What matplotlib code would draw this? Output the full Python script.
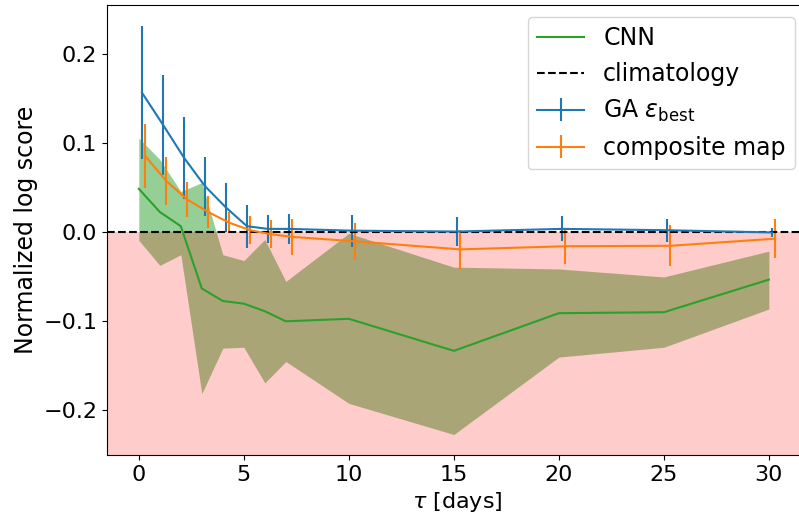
import matplotlib
matplotlib.use("Agg")
import matplotlib.pyplot as plt
import numpy as np

tau = [0, 1, 2, 3, 4, 5, 6, 7, 10, 15, 20, 25, 30]

cnn_mean = [0.048, 0.022, 0.006, -0.064, -0.078, -0.081, -0.0895, -0.1008, -0.098, -0.134, -0.0917, -0.0906, -0.054]
cnn_upper = [0.105, 0.081, 0.045, 0.055, -0.026, -0.0326, -0.009, -0.056, -0.002, -0.040, -0.042, -0.051, -0.022]
cnn_lower = [-0.0098, -0.038, -0.026, -0.182, -0.131, -0.130, -0.170, -0.146, -0.193, -0.228, -0.141, -0.130, -0.087]

ga_mean = [0.156, 0.120, 0.083, 0.051, 0.027, 0.006, 0.003, 0.003, 0.001, 0.000, 0.003, 0.0015, -0.001]
ga_err = [0.075, 0.056, 0.046, 0.033, 0.027, 0.024, 0.016, 0.017, 0.018, 0.016, 0.014, 0.013, 0.005]

comp_mean = [0.085, 0.057, 0.036, 0.022, 0.010, 0.0015, -0.003, -0.006, -0.011, -0.020, -0.0165, -0.016, -0.008]
comp_err = [0.036, 0.027, 0.020, 0.018, 0.012, 0.016, 0.016, 0.020, 0.021, 0.022, 0.020, 0.023, 0.022]

ga_offset = 0.15
comp_offset = 0.3

fig = plt.figure(figsize=(7.99, 5.19), dpi=100)
ax = fig.add_axes([107/799, (519-455)/519, (807-107)/799, 450/519])

x = np.array(tau, dtype=float)
ax.fill_between(x, cnn_lower, cnn_upper, color='tab:green', alpha=0.5, linewidth=0)
ax.axhspan(-1, 0, color='red', alpha=0.2, linewidth=0)
ax.plot(x, cnn_mean, color='tab:green', label='CNN')
ax.errorbar(x + ga_offset, ga_mean, yerr=ga_err, color='tab:blue', label=r'GA $\varepsilon_\mathrm{best}$')
ax.errorbar(x + comp_offset, comp_mean, yerr=comp_err, color='tab:orange', label='composite map')
ax.axhline(0, color='black', linestyle='--', label='climatology')

ax.set_xlim(-1.515, 31.815)
ax.set_ylim(-0.251, 0.2545)
ax.set_xticks([0, 5, 10, 15, 20, 25, 30])
ax.set_yticks([-0.2, -0.1, 0.0, 0.1, 0.2])
ax.tick_params(labelsize=16)
ax.set_xlabel(r'$\tau$ [days]', fontsize=16)
ax.set_ylabel('Normalized log score', fontsize=17)

h, l = ax.get_legend_handles_labels()
order = [l.index('CNN'), l.index('climatology'), l.index(r'GA $\varepsilon_\mathrm{best}$'), l.index('composite map')]
ax.legend([h[i] for i in order], [l[i] for i in order], loc='upper right', fontsize=17)

fig.savefig('out.png', dpi=100)
